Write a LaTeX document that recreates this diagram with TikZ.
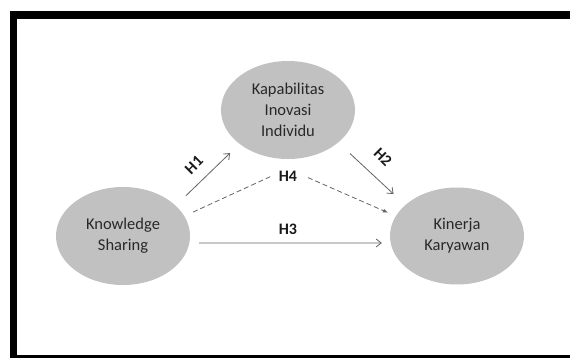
\documentclass[tikz,border=0pt]{standalone}
\usepackage{fontspec}
\setmainfont{Carlito}
\usetikzlibrary{shapes.geometric,arrows.meta}
\definecolor{ellfill}{RGB}{193,193,193}
\definecolor{txtc}{RGB}{40,40,40}
\definecolor{arrc}{RGB}{100,100,100}
\tikzset{
  construct/.style={ellipse, fill=ellfill, draw=none, inner sep=0pt,
    minimum width=134pt, minimum height=98pt, text=txtc, align=center,
    font=\fontsize{16.5}{21}\selectfont},
  hlabel/.style={text=black!90, inner sep=7pt, font=\fontsize{16}{16}\selectfont\bfseries},
  solidarrow/.style={draw=arrc, line width=0.8pt, -{Straight Barb[length=5pt,width=8pt]}},
  dashline/.style={draw=arrc, line width=0.8pt, dash pattern=on 5pt off 3pt},
  dasharrow/.style={dashline, -{Latex[length=5pt,width=4pt]}},
  frame/.style={fill=black, draw=none}
}
\begin{document}
\begin{tikzpicture}[x=1pt,y=-1pt]
\useasboundingbox (0,0) rectangle (570,358);
\fill[white] (0,0) rectangle (570,358);
% frame
\fill[frame] (10,11) rectangle (570,19);
\fill[frame] (10,11) rectangle (17,358);
\fill[frame] (10,355) rectangle (570,358);
% constructs
\node[construct] (kii) at (288,110) {Kapabilitas\\Inovasi\\Individu};
\node[construct] (ks) at (123,236) {Knowledge\\Sharing};
\node[construct, minimum height=97pt] (kk) at (457,236) {Kinerja\\Karyawan};
% labels
\node[hlabel, inner sep=0pt] (h1) at (194,165) [rotate=45] {H1};
\node[hlabel, inner sep=0pt] (h2) at (383,157) [rotate=-45] {H2};
\node[hlabel, inner sep=0pt] (h3) at (288,229) {H3};
\node[hlabel] (h4) at (288,176) {H4};
% connectors
\draw[solidarrow, shorten <=14pt, shorten >=13pt] (ks.30) -- (kii.215.5);
\draw[solidarrow, shorten <=16pt, shorten >=16pt] (kii.327.7) -- (kk.149.5);
\draw[solidarrow, shorten <=9.7pt, shorten >=8.7pt] (ks.354) -- (kk.186);
\draw[dashline, shorten <=9.5pt] (ks.18.1) -- (h4.west);
\draw[dasharrow, shorten <=4pt, shorten >=8.4pt] (h4.east) -- (kk.162.2);
\end{tikzpicture}
\end{document}
